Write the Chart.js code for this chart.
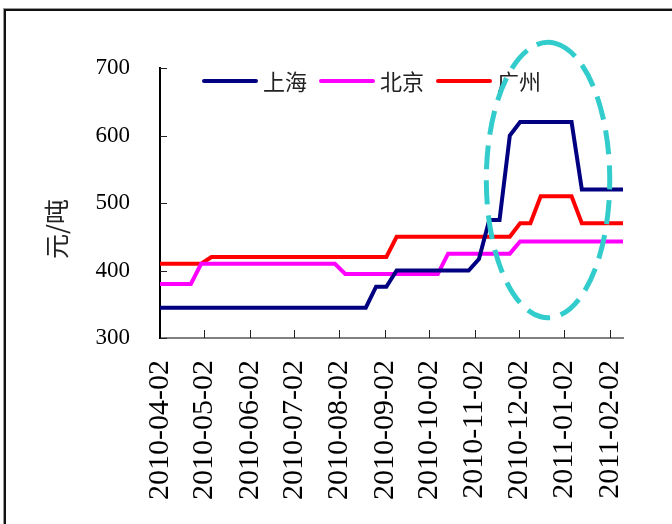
<!DOCTYPE html>
<html>
<head>
<meta charset="utf-8">
<script src="https://cdn.jsdelivr.net/npm/chart.js@4/dist/chart.umd.min.js"></script>
<style>
  html, body { margin: 0; padding: 0; background: #fff; overflow: hidden; }
  #wrap { position: relative; width: 672px; height: 524px; overflow: hidden; }
  #frame { position: absolute; left: 4px; top: 9px; width: 720px; height: 600px;
           border: 2px solid #111; box-shadow: 0 0 0 1px #999; }
  canvas { position: absolute; left: 0; top: 0; }
</style>
</head>
<body>
<div id="wrap">
  <div id="frame"></div>
  <canvas id="chart" width="672" height="524"></canvas>
</div>
<script>
// Weekly price observations (元/吨)
const weekDates = [
  '2010-04-02','2010-04-09','2010-04-16','2010-04-23','2010-04-30',
  '2010-05-07','2010-05-14','2010-05-21','2010-05-28',
  '2010-06-04','2010-06-11','2010-06-18','2010-06-25',
  '2010-07-02','2010-07-09','2010-07-16','2010-07-23','2010-07-30',
  '2010-08-06','2010-08-13','2010-08-20','2010-08-27',
  '2010-09-03','2010-09-10','2010-09-17','2010-09-24',
  '2010-10-01','2010-10-08','2010-10-15','2010-10-22','2010-10-29',
  '2010-11-05','2010-11-12','2010-11-19','2010-11-26',
  '2010-12-03','2010-12-10','2010-12-17','2010-12-24','2010-12-31',
  '2011-01-07','2011-01-14','2011-01-21','2011-01-28',
  '2011-02-04','2011-02-11'
];

const shanghai = [
  345,345,345,345,345, 345,345,345,345, 345,345,345,345,
  345,345,345,345,345, 345,345,345,376, 376,400,400,400,
  400,400,400,400,400, 417,475,475,600, 620,620,620,620,620,
  620,520,520,520, 520,520
];

const beijing = [
  380,380,380,380,410, 410,410,410,410, 410,410,410,410,
  410,410,410,410,410, 395,395,395,395, 395,395,395,395,
  395,395,425,425,425, 425,425,425,425, 443,443,443,443,443,
  443,443,443,443, 443,443
];

const guangzhou = [
  410,410,410,410,410, 420,420,420,420, 420,420,420,420,
  420,420,420,420,420, 420,420,420,420, 420,450,450,450,
  450,450,450,450,450, 450,450,450,450, 470,470,510,510,510,
  510,470,470,470, 470,470
];

const seriesNames = ['上海', '北京', '广州'];
const seriesColors = ['#000080', '#FF00FF', '#FF0000'];
const yAxisTitle = '元/吨';

// Month labels along the date axis
const monthLabels = [
  '2010-04-02','2010-05-02','2010-06-02','2010-07-02','2010-08-02','2010-09-02',
  '2010-10-02','2010-11-02','2010-12-02','2011-01-02','2011-02-02'
];
const yTickValues = [300, 400, 500, 600, 700];
const axisEnd = '2011-02-11';

// Highlighted period (ellipse around the winter price spike)
const highlight = { date: '2010-12-22', value: 534, spanDays: 42, spanValue: 204, color: '#33CCCC' };

const origin = Date.UTC(2010, 3, 2);
function dayIndex(s) {
  const p = s.split('-').map(Number);
  return Math.round((Date.UTC(p[0], p[1] - 1, p[2]) - origin) / 86400000);
}
const toPoints = arr => arr.map((v, i) => ({ x: dayIndex(weekDates[i]), y: v }));

const serif = 'Liberation Serif, Times New Roman, serif';
const cjk = 'Noto Sans CJK SC, sans-serif';

// Short inward tick marks on both axes
const innerTicks = {
  id: 'innerTicks',
  afterDraw(chart) {
    const { ctx, chartArea: a, scales: { x, y } } = chart;
    ctx.save();
    ctx.strokeStyle = '#222';
    ctx.lineWidth = 1;
    ctx.beginPath();
    y.ticks.forEach(t => {
      const py = Math.round(y.getPixelForValue(t.value)) + 0.5;
      ctx.moveTo(a.left, py); ctx.lineTo(a.left + 7, py);
    });
    x.ticks.forEach(t => {
      if (t.value === 0) return;
      const px = Math.round(x.getPixelForValue(t.value)) + 0.5;
      ctx.moveTo(px, a.bottom); ctx.lineTo(px, a.bottom - 8);
    });
    ctx.stroke();
    ctx.restore();
  }
};

// Vertical value-axis title, set a little below the middle of the plot
const axisTitle = {
  id: 'axisTitle',
  afterDraw(chart) {
    const { ctx, chartArea: a } = chart;
    ctx.save();
    ctx.translate(a.left - 104, a.top + 161);
    ctx.rotate(-Math.PI / 2);
    ctx.font = '25px ' + cjk;
    ctx.fillStyle = '#222';
    ctx.textAlign = 'center';
    ctx.textBaseline = 'middle';
    ctx.fillText(yAxisTitle, 0, 0);
    ctx.restore();
  }
};

// Legend drawn inside the top of the plot area
const innerLegend = {
  id: 'innerLegend',
  afterDatasetsDraw(chart) {
    const { ctx, chartArea: a } = chart;
    ctx.save();
    ctx.font = '22px ' + cjk;
    ctx.textBaseline = 'middle';
    ctx.textAlign = 'left';
    let xPos = a.left + 44;
    const yPos = a.top + 13;
    chart.data.datasets.forEach(ds => {
      ctx.strokeStyle = ds.borderColor;
      ctx.lineWidth = 4;
      ctx.lineCap = 'round';
      ctx.beginPath();
      ctx.moveTo(xPos, yPos); ctx.lineTo(xPos + 52, yPos);
      ctx.stroke();
      ctx.fillStyle = '#222';
      ctx.fillText(ds.label, xPos + 59, yPos + 1);
      xPos += 59 + ctx.measureText(ds.label).width + 14;
    });
    ctx.restore();
  }
};

// Dashed ellipse marking the highlighted period
const highlightEllipse = {
  id: 'highlightEllipse',
  afterDraw(chart) {
    const { ctx, scales: { x, y } } = chart;
    const d = dayIndex(highlight.date);
    const cx = x.getPixelForValue(d);
    const rx = x.getPixelForValue(d + highlight.spanDays) - cx;
    const cy = y.getPixelForValue(highlight.value);
    const ry = cy - y.getPixelForValue(highlight.value + highlight.spanValue);
    ctx.save();
    ctx.strokeStyle = highlight.color;
    ctx.lineWidth = 5;
    ctx.setLineDash([24, 11]);
    ctx.beginPath();
    ctx.ellipse(cx, cy, rx, ry, 0, -Math.PI / 2 + 0.12, 3 * Math.PI / 2 + 0.12);
    ctx.stroke();
    ctx.restore();
  }
};

const chartSeries = [shanghai, beijing, guangzhou];

new Chart(document.getElementById('chart'), {
  type: 'line',
  data: {
    datasets: chartSeries.map((s, i) => ({
      label: seriesNames[i],
      data: toPoints(s),
      borderColor: seriesColors[i],
      backgroundColor: seriesColors[i],
      borderWidth: 4,
      pointRadius: 0,
      tension: 0,
      fill: false
    }))
  },
  options: {
    responsive: false,
    animation: false,
    events: [],
    layout: { padding: { left: 40, right: 49, top: 68, bottom: 0 } },
    plugins: { legend: { display: false }, tooltip: { enabled: false } },
    scales: {
      x: {
        type: 'linear',
        min: 0,
        max: dayIndex(axisEnd),
        afterBuildTicks: s => { s.ticks = monthLabels.map(m => ({ value: dayIndex(m) })); },
        afterFit: s => { s.height = 186; },
        ticks: {
          autoSkip: false,
          minRotation: 90,
          maxRotation: 90,
          padding: 22,
          color: '#000',
          font: { family: serif, size: 30 },
          callback: v => monthLabels.find(m => dayIndex(m) === v) || ''
        },
        grid: { display: false, drawTicks: false },
        border: { display: true, color: '#808080', width: 2 }
      },
      y: {
        min: 300,
        max: 700,
        afterBuildTicks: s => { s.ticks = yTickValues.map(v => ({ value: v })); },
        afterFit: s => { s.width = 120; },
        ticks: {
          padding: 30,
          color: '#000',
          font: { family: serif, size: 23 }
        },
        grid: { display: false, drawTicks: false },
        border: { display: true, color: '#000', width: 2 }
      }
    }
  },
  plugins: [innerTicks, axisTitle, innerLegend, highlightEllipse]
});
</script>
</body>
</html>
